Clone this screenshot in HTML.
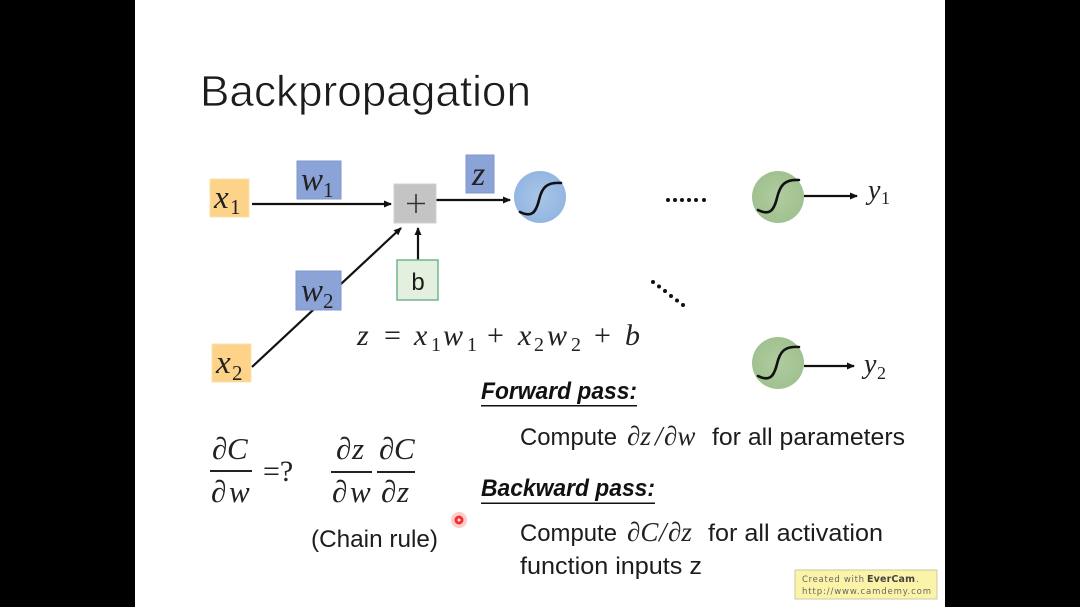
<!DOCTYPE html>
<html><head><meta charset="utf-8"><style>
html,body{margin:0;padding:0;background:#000;width:1080px;height:607px;overflow:hidden}
svg{display:block;filter:blur(.35px)}
.m{font-family:"Liberation Serif",serif;font-style:italic;fill:#222}
.n{font-family:"Liberation Serif",serif;fill:#222}
.s{font-family:"Liberation Sans",sans-serif;fill:#1c1c1c}
.b{font-family:"Liberation Sans",sans-serif;font-weight:bold;font-style:italic;fill:#111}
</style></head><body>
<svg width="1080" height="607" viewBox="0 0 1080 607" xmlns="http://www.w3.org/2000/svg">
<defs>
<marker id="a" markerWidth="9" markerHeight="8" refX="7" refY="3.500" orient="auto" markerUnits="userSpaceOnUse"><path d="M0 0L8 3.500L0 7Z" fill="#111"/></marker>
<radialGradient id="db" cx="50%" cy="50%" r="60%"><stop offset="0" stop-color="#a9c5e8"/><stop offset="1" stop-color="#8fb3e0"/></radialGradient>
<radialGradient id="dg" cx="50%" cy="50%" r="60%"><stop offset="0" stop-color="#b0cc9f"/><stop offset="1" stop-color="#9dbf8c"/></radialGradient>
</defs>
<rect x="135" y="0" width="810" height="607" fill="#fff"/>
<text x="200" y="106" class="s" font-size="44" textLength="331" lengthAdjust="spacingAndGlyphs" stroke="#fff" stroke-width=".7">Backpropagation</text>

<g stroke="#111" stroke-width="2.200" fill="none">
<path d="M252 204H391" marker-end="url(#a)"/>
<path d="M436 200H510" marker-end="url(#a)"/>
<path d="M418 260V228" marker-end="url(#a)"/>
<path d="M252 367L401 228" marker-end="url(#a)"/>
<path d="M804 196H857" marker-end="url(#a)"/>
<path d="M804 366H854" marker-end="url(#a)"/>
</g>

<rect x="210" y="179" width="39" height="38" fill="#fdd38a" stroke="#fbe0ae"/>
<rect x="212" y="344" width="39" height="38" fill="#fdd38a" stroke="#fbe0ae"/>
<rect x="297" y="161" width="44" height="38" fill="#8ca3d8" stroke="#7f97cf"/>
<rect x="296" y="271" width="45" height="39" fill="#8ca3d8" stroke="#7f97cf"/>
<rect x="466" y="155" width="28" height="38" fill="#8ca3d8" stroke="#7f97cf"/>
<rect x="394" y="184" width="42" height="39" fill="#c4c4c4" stroke="#d0d0d0"/>
<rect x="397" y="260" width="41" height="40" fill="#e3f0e0" stroke="#74b48c" stroke-width="1.500"/>

<path d="M416 194V213M407 203.500H425" stroke="#333" stroke-width="1.600" fill="none"/>
<text x="418" y="290" class="s" font-size="24" text-anchor="middle">b</text>

<circle cx="540" cy="197" r="26" fill="url(#db)"/>
<circle cx="778" cy="197" r="26" fill="url(#dg)"/>
<circle cx="778" cy="363" r="26" fill="url(#dg)"/>
<g fill="none" stroke="#111" stroke-width="2.600" stroke-linecap="round">
<path d="M520 212C532 218 536 212 539 200C542 187 547 182 561 183"/>
<path d="M758 210C770 216 774 210 777 198C780 185 785 179 799 180"/>
<path d="M758 376C770 382 774 376 777 364C780 351 785 346 799 347"/>
</g>

<g fill="#111">
<circle cx="668" cy="200" r="2"/><circle cx="675" cy="200" r="2"/><circle cx="682" cy="200" r="2"/><circle cx="689" cy="200" r="2"/><circle cx="696" cy="200" r="2"/><circle cx="704" cy="200" r="2"/>
<circle cx="653" cy="282" r="2"/><circle cx="659" cy="286.500" r="2"/><circle cx="665" cy="291" r="2"/><circle cx="671" cy="296" r="2"/><circle cx="677" cy="300.500" r="2"/><circle cx="683" cy="305" r="2"/>
</g>

<text x="214" y="208" class="m" font-size="33">x</text><text x="230" y="214" class="n" font-size="21">1</text>
<text x="216" y="373" class="m" font-size="33">x</text><text x="232" y="380" class="n" font-size="21">2</text>
<text x="301" y="190" class="m" font-size="33">w</text><text x="323" y="197" class="n" font-size="21">1</text>
<text x="301" y="301" class="m" font-size="33">w</text><text x="323" y="308" class="n" font-size="21">2</text>
<text x="472" y="185" class="m" font-size="34">z</text>

<text x="868" y="199" class="m" font-size="28">y</text><text x="881" y="204" class="n" font-size="18">1</text>
<text x="864" y="373" class="m" font-size="28">y</text><text x="877" y="379" class="n" font-size="18">2</text>

<text y="345" class="m" font-size="30"><tspan x="357">z</tspan><tspan x="414">x</tspan><tspan x="443">w</tspan><tspan x="518">x</tspan><tspan x="547">w</tspan><tspan x="625">b</tspan></text>
<text y="345" class="n" font-size="30"><tspan x="384">=</tspan><tspan x="487">+</tspan><tspan x="594">+</tspan></text>
<text y="351" class="n" font-size="20"><tspan x="431">1</tspan><tspan x="467">1</tspan><tspan x="534">2</tspan><tspan x="571">2</tspan></text>

<text x="481" y="399" class="b" font-size="24" textLength="156" lengthAdjust="spacingAndGlyphs">Forward pass:</text>
<rect x="481" y="405" width="156" height="1.500" fill="#111"/>
<text x="481" y="496" class="b" font-size="24" textLength="174" lengthAdjust="spacingAndGlyphs">Backward pass:</text>
<rect x="481" y="502.500" width="174" height="1.500" fill="#111"/>

<text x="520" y="445" class="s" font-size="24.500" textLength="97" lengthAdjust="spacingAndGlyphs">Compute</text>
<text y="445" class="m" font-size="27"><tspan x="627">∂z</tspan><tspan x="655">/</tspan><tspan x="664">∂w</tspan></text>
<text x="712" y="445" class="s" font-size="24.500" textLength="193" lengthAdjust="spacingAndGlyphs">for all parameters</text>

<text x="520" y="541" class="s" font-size="24.500" textLength="97" lengthAdjust="spacingAndGlyphs">Compute</text>
<text y="541" class="m" font-size="27"><tspan x="627">∂C</tspan><tspan x="659">/</tspan><tspan x="668">∂z</tspan></text>
<text x="708" y="541" class="s" font-size="24.500" textLength="175" lengthAdjust="spacingAndGlyphs">for all activation</text>
<text x="520" y="574" class="s" font-size="24.500" textLength="182" lengthAdjust="spacingAndGlyphs">function inputs z</text>

<text y="459" class="m" font-size="31"><tspan x="212">∂</tspan><tspan x="227">C</tspan></text>
<rect x="210" y="470" width="42" height="2" fill="#222"/>
<text y="502" class="m" font-size="31"><tspan x="211">∂</tspan><tspan x="229">w</tspan></text>
<text x="263" y="481" class="n" font-size="30">=?</text>
<text y="459" class="m" font-size="31"><tspan x="336">∂</tspan><tspan x="352">z</tspan></text>
<rect x="331" y="471" width="41" height="2" fill="#222"/>
<text y="502" class="m" font-size="31"><tspan x="332">∂</tspan><tspan x="350">w</tspan></text>
<text y="459" class="m" font-size="31"><tspan x="379">∂</tspan><tspan x="394">C</tspan></text>
<rect x="377" y="471" width="38" height="2" fill="#222"/>
<text y="502" class="m" font-size="31"><tspan x="381">∂</tspan><tspan x="397">z</tspan></text>
<text x="311" y="547" class="s" font-size="24" textLength="127" lengthAdjust="spacingAndGlyphs">(Chain rule)</text>

<circle cx="459" cy="520" r="8" fill="#f66" opacity=".35"/>
<circle cx="459" cy="520" r="4.500" fill="#e33"/>
<circle cx="459" cy="520" r="1.500" fill="#fdd"/>

<rect x="795" y="570" width="142" height="29" fill="#fbf3a8" stroke="#c9c9a0"/>
<text x="802" y="582" font-family="'DejaVu Sans',sans-serif" font-size="8.500" fill="#666" textLength="62">Created with</text>
<text x="867" y="582" font-family="'DejaVu Sans',sans-serif" font-size="9.500" font-weight="bold" fill="#444" textLength="48">EverCam</text>
<text x="916" y="582" font-family="'DejaVu Sans',sans-serif" font-size="8.500" fill="#666">.</text>
<text x="802" y="594" font-family="'DejaVu Sans',sans-serif" font-size="8.500" fill="#666" textLength="129">http://www.camdemy.com</text>
</svg>
</body></html>
